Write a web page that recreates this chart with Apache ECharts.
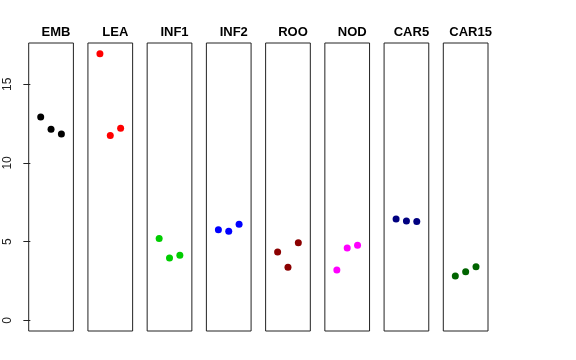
<!DOCTYPE html>
<html>
<head>
<meta charset="utf-8">
<script src="https://cdn.jsdelivr.net/npm/echarts@6/dist/echarts.min.js"></script>
<style>html,body{margin:0;padding:0;background:#fff}#c{width:576px;height:360px}</style>
</head>
<body>
<div id="c"></div>
<script>
var panels = ['EMB', 'LEA', 'INF1', 'INF2', 'ROO', 'NOD', 'CAR5', 'CAR15'];
var xPositions = [1, 2, 3];
var EMB = [12.92, 12.14, 11.84];
var LEA = [16.93, 11.74, 12.21];
var INF1 = [5.19, 3.96, 4.13];
var INF2 = [5.76, 5.66, 6.10];
var ROO = [4.34, 3.37, 4.92];
var NOD = [3.20, 4.60, 4.77];
var CAR5 = [6.44, 6.31, 6.27];
var CAR15 = [2.82, 3.09, 3.41];
var yTicks = [0, 5, 10, 15];

var seriesValues = [EMB, LEA, INF1, INF2, ROO, NOD, CAR5, CAR15];
var colors = ['#000000', '#FF0000', '#00CD00', '#0000FF', '#8B0000', '#FF00FF', '#000080', '#006400'];

var chart = echarts.init(document.getElementById('c'), null, {renderer: 'canvas'});
var grids = [], xAxes = [], yAxes = [], series = [], titles = [];
var left0 = 28.7, step = 59.23, panelW = 44.7, panelTop = 43, panelH = 288;
for (var i = 0; i < panels.length; i++) {
  var L = left0 + i * step;
  grids.push({left: L, top: panelTop, width: panelW, height: panelH, show: true, borderColor: '#222', borderWidth: 1, backgroundColor: 'transparent'});
  xAxes.push({type: 'value', gridIndex: i, min: -0.16, max: 4.16, show: false});
  yAxes.push({
    type: 'value', gridIndex: i, min: -0.68, max: 17.62,
    show: i === 0,
    splitLine: {show: false},
    axisLine: {show: false},
    axisTick: {show: i === 0, length: 7, customValues: yTicks, lineStyle: {color: '#222'}},
    axisLabel: {show: i === 0, customValues: yTicks, rotate: 90, margin: 15, color: '#222', fontFamily: 'Liberation Sans, Arial, sans-serif', fontSize: 12}
  });
  series.push({
    type: 'scatter', xAxisIndex: i, yAxisIndex: i,
    data: xPositions.map(function (x, k) { return [x, seriesValues[i][k]]; }),
    symbolSize: 7, itemStyle: {color: colors[i], opacity: 1}, silent: true, animation: false
  });
  titles.push({
    text: panels[i], left: L + panelW / 2, top: 21, textAlign: 'center',
    textStyle: {fontFamily: 'Liberation Sans, Arial, sans-serif', fontWeight: 'bold', fontSize: 13, color: '#000'}
  });
}
chart.setOption({
  animation: false,
  title: titles,
  grid: grids,
  xAxis: xAxes,
  yAxis: yAxes,
  series: series
});
</script>
</body>
</html>
